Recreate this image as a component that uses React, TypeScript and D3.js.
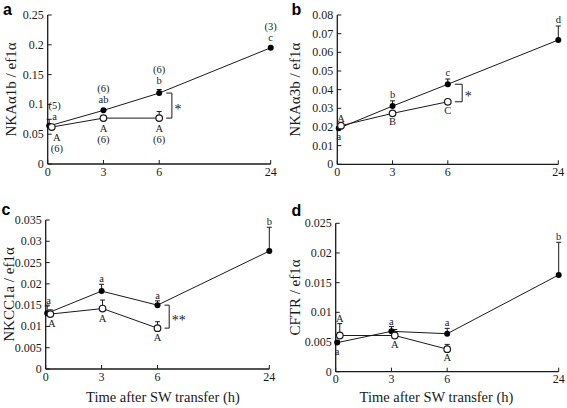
import React from 'react';
import * as d3 from 'd3';

// ---------- shared data ----------
const times = [0, 3, 6, 24];
const timeSlots = [0, 1, 2, 4];
const xTickLabels = ['0', '3', '6', '24'];
const xAxisTitle = 'Time after SW transfer (h)';

// ---------- panel a ----------
const aFilled = [0.064, 0.09, 0.119, 0.195];
const aFilledErr = [0.011, 0.003, 0.006, 0.002];
const aOpen = [0.062, 0.077, 0.077];
const aOpenErr = [0.004, 0.002, 0.011];
const aFilledLetters = ['a', 'ab', 'b', 'c'];
const aFilledN = ['(5)', '(6)', '(6)', '(3)'];
const aOpenLetters = ['A', 'A', 'A'];
const aOpenN = ['(6)', '(6)', '(6)'];
const aTicks = [0, 0.05, 0.1, 0.15, 0.2, 0.25];
const aTickLabels = ['0', '0.05', '0.1', '0.15', '0.2', '0.25'];

// ---------- panel b ----------
const bFilled = [0.0193, 0.0312, 0.0429, 0.0666];
const bFilledErr = [0.0008, 0.0028, 0.0028, 0.0075];
const bOpen = [0.0207, 0.0273, 0.0335];
const bOpenErr = [0.0005, 0.0006, 0.0006];
const bFilledLetters = ['a', 'b', 'c', 'd'];
const bOpenLetters = ['A', 'B', 'C'];
const bTicks = [0, 0.01, 0.02, 0.03, 0.04, 0.05, 0.06, 0.07, 0.08];
const bTickLabels = ['0', '0.01', '0.02', '0.03', '0.04', '0.05', '0.06', '0.07', '0.08'];

// ---------- panel c ----------
const cFilled = [0.0131, 0.0183, 0.015, 0.0277];
const cFilledErr = [0.0017, 0.0016, 0.001, 0.0056];
const cOpen = [0.0129, 0.0142, 0.0096];
const cOpenErr = [0.001, 0.002, 0.0015];
const cFilledLetters = ['a', 'a', 'a', 'b'];
const cOpenLetters = ['A', 'A', 'A'];
const cTicks = [0, 0.005, 0.01, 0.015, 0.02, 0.025, 0.03, 0.035];
const cTickLabels = ['0', '0.005', '0.01', '0.015', '0.02', '0.025', '0.03', '0.035'];

// ---------- panel d ----------
const dFilled = [0.0049, 0.0068, 0.0064, 0.0163];
const dFilledErr = [0.0003, 0.0008, 0.0009, 0.0055];
const dOpen = [0.0061, 0.0061, 0.0038];
const dOpenErr = [0.002, 0.001, 0.0008];
const dFilledLetters = ['a', 'a', 'a', 'b'];
const dOpenLetters = ['A', 'A', 'A'];
const dTicks = [0, 0.005, 0.01, 0.015, 0.02, 0.025];
const dTickLabels = ['0', '0.005', '0.01', '0.015', '0.02', '0.025'];

const serif = '"Liberation Serif", "Times New Roman", Times, serif';
const sans = '"Liberation Sans", Arial, Helvetica, sans-serif';
const INK = '#1a1a1a';

type Ann = { s: 'f' | 'o'; i: number; text: string; where: 'above' | 'below' | 'abovePt'; dx?: number; stack?: number };

type Cfg = {
  letter: string;
  letterPos: [number, number];
  left: number; right: number; top: number; bottom: number;
  yMax: number; ticks: number[]; tickLabels: string[];
  yTitle: string; yTitleOffset: number;
  filled: number[]; filledErr: number[]; open: number[]; openErr: number[];
  openShift: number[];
  anns: Ann[];
  gapAbove: number; gapBelow: number;
  sig?: string; sigOffset?: number;
  xTitle?: boolean; xTitleX?: number;
};

const FILLED_SHIFT_T0 = 0.08;

function Panel({ c }: { c: Cfg }) {
  const slot = d3.scaleLinear().domain([0, 4]).range([c.left, c.right]);
  const x = d3.scaleLinear().domain(times).range(timeSlots.map((s) => slot(s)));
  const y = d3.scaleLinear().domain([0, c.yMax]).range([c.bottom, c.top]);

  const fPts = c.filled.map((v, i) => [x(times[i] + (i === 0 ? FILLED_SHIFT_T0 : 0)), y(v)] as [number, number]);
  const oPts = c.open.map((v, i) => [x(times[i] + c.openShift[i]), y(v)] as [number, number]);
  const line = d3.line<[number, number]>();

  const err = (pts: [number, number][], vals: number[], errs: number[], key: string) =>
    pts.map((p, i) => {
      const yt = y(vals[i] + errs[i]);
      return (
        <g key={key + i} stroke={INK} strokeWidth={1}>
          <line x1={p[0]} x2={p[0]} y1={p[1]} y2={yt} />
          <line x1={p[0] - 2.5} x2={p[0] + 2.5} y1={yt} y2={yt} />
        </g>
      );
    });

  const annEls = c.anns.map((a, k) => {
    const pts = a.s === 'f' ? fPts : oPts;
    const vals = a.s === 'f' ? c.filled : c.open;
    const errs = a.s === 'f' ? c.filledErr : c.openErr;
    const p = pts[a.i];
    const st = (a.stack || 0) * 11;
    let cy: number;
    if (a.where === 'above') cy = y(vals[a.i] + errs[a.i]) - c.gapAbove - st;
    else if (a.where === 'abovePt') cy = p[1] - c.gapAbove - st;
    else cy = p[1] + c.gapBelow + st;
    return (
      <text key={'ann' + k} x={p[0] + (a.dx || 0)} y={cy + 3.6} fontSize={10.5} fontFamily={serif} textAnchor="middle" fill={INK}>
        {a.text}
      </text>
    );
  });

  let sigEl = null;
  if (c.sig) {
    const bx = x(6) + (c.sigOffset || 13);
    const y1 = fPts[2][1];
    const y2 = oPts[2][1];
    const mid = (y1 + y2) / 2;
    sigEl = (
      <g>
        <path d={`M${x(6) + 7},${y1}H${bx}V${y2}H${x(6) + 7}`} fill="none" stroke={INK} strokeWidth={1} />
        <text x={bx + 2.5} y={mid + 8} fontSize={14} fontFamily={serif} fill={INK}>
          {c.sig}
        </text>
      </g>
    );
  }

  const yMid = (c.top + c.bottom) / 2;

  return (
    <g>
      <text x={c.letterPos[0]} y={c.letterPos[1]} fontSize={16} fontWeight="bold" fontFamily={sans} fill="#000">
        {c.letter}
      </text>
      {/* axes */}
      <line x1={c.left} x2={c.left} y1={c.top} y2={c.bottom} stroke={INK} strokeWidth={1.3} />
      <line x1={c.left} x2={x(24)} y1={c.bottom} y2={c.bottom} stroke={INK} strokeWidth={1.3} />
      {c.ticks.map((t, i) => (
        <g key={'yt' + i}>
          <line x1={c.left} x2={c.left + 4} y1={y(t)} y2={y(t)} stroke={INK} strokeWidth={1} />
          <text x={c.left - 4} y={y(t) + 4} fontSize={12} fontFamily={serif} textAnchor="end" fill={INK}>
            {c.tickLabels[i]}
          </text>
        </g>
      ))}
      {times.map((t, i) => (
        <g key={'xt' + i}>
          <line x1={x(t)} x2={x(t)} y1={c.bottom} y2={c.bottom - 4} stroke={INK} strokeWidth={1} />
          <text x={x(t)} y={c.bottom + 11.5} fontSize={12} fontFamily={serif} textAnchor="middle" fill={INK}>
            {xTickLabels[i]}
          </text>
        </g>
      ))}
      <text
        transform={`translate(${c.left - c.yTitleOffset},${yMid}) rotate(-90)`}
        fontSize={15}
        fontFamily={serif}
        textAnchor="middle"
        fill={INK}
      >
        {c.yTitle}
      </text>
      {c.xTitle && (
        <text x={c.xTitleX} y={402} fontSize={14.5} fontFamily={serif} textAnchor="middle" fill={INK}>
          {xAxisTitle}
        </text>
      )}
      {/* series */}
      <path d={line(fPts) || ''} fill="none" stroke={INK} strokeWidth={1} />
      <path d={line(oPts) || ''} fill="none" stroke={INK} strokeWidth={1} />
      {err(fPts, c.filled, c.filledErr, 'fe')}
      {err(oPts, c.open, c.openErr, 'oe')}
      {fPts.map((p, i) => (
        <circle key={'fp' + i} cx={p[0]} cy={p[1]} r={3} fill="#000" />
      ))}
      {oPts.map((p, i) => (
        <circle key={'op' + i} cx={p[0]} cy={p[1]} r={3.3} fill="#fff" stroke={INK} strokeWidth={1.2} />
      ))}
      {annEls}
      {sigEl}
    </g>
  );
}

const mk = (arr: string[], s: 'f' | 'o', where: Ann['where'][], dx: number[] = [], stack = 0): Ann[] =>
  arr.map((text, i) => ({ s, i, text, where: where[i], dx: dx[i] || 0, stack }));

const panels: Cfg[] = [
  {
    letter: 'a', letterPos: [3, 14.5],
    left: 47.7, right: 270.7, top: 15, bottom: 164,
    yMax: 0.25, ticks: aTicks, tickLabels: aTickLabels,
    yTitle: 'NKAα1b / ef1α', yTitleOffset: 32,
    filled: aFilled, filledErr: aFilledErr, open: aOpen, openErr: aOpenErr,
    openShift: [0.22, 0, 0],
    gapAbove: 9, gapBelow: 10,
    anns: [
      ...mk(aFilledLetters, 'f', ['abovePt', 'above', 'above', 'above'], [5.5]),
      ...mk(aFilledN, 'f', ['abovePt', 'above', 'above', 'above'], [5.5], 1),
      ...mk(aOpenLetters, 'o', ['below', 'below', 'below'], [5]),
      ...mk(aOpenN, 'o', ['below', 'below', 'below'], [5], 1),
    ],
    sig: '*', sigOffset: 12.7,
  },
  {
    letter: 'b', letterPos: [291.5, 15],
    left: 337.3, right: 558.3, top: 15, bottom: 164.3,
    yMax: 0.08, ticks: bTicks, tickLabels: bTickLabels,
    yTitle: 'NKAα3b / ef1α', yTitleOffset: 37,
    filled: bFilled, filledErr: bFilledErr, open: bOpen, openErr: bOpenErr,
    openShift: [0.2, 0, 0],
    gapAbove: 6.5, gapBelow: 8.5,
    anns: [
      ...mk(bFilledLetters, 'f', ['below', 'above', 'above', 'above']),
      ...mk(bOpenLetters, 'o', ['above', 'below', 'below']),
    ],
    sig: '*', sigOffset: 14.4,
  },
  {
    letter: 'c', letterPos: [1.5, 215],
    left: 45.7, right: 269.3, top: 220, bottom: 369,
    yMax: 0.035, ticks: cTicks, tickLabels: cTickLabels,
    yTitle: 'NKCC1a / ef1α', yTitleOffset: 32,
    filled: cFilled, filledErr: cFilledErr, open: cOpen, openErr: cOpenErr,
    openShift: [0.25, 0.05, 0],
    gapAbove: 5.5, gapBelow: 9.5,
    anns: [
      ...mk(cFilledLetters, 'f', ['above', 'above', 'above', 'above'], [1.5]),
      ...mk(cOpenLetters, 'o', ['below', 'below', 'below'], [1.5]),
    ],
    sig: '**', sigOffset: 11.7,
    xTitle: true, xTitleX: 163,
  },
  {
    letter: 'd', letterPos: [291.5, 215.5],
    left: 335.7, right: 558.7, top: 223.3, bottom: 371.7,
    yMax: 0.025, ticks: dTicks, tickLabels: dTickLabels,
    yTitle: 'CFTR / ef1α', yTitleOffset: 36,
    filled: dFilled, filledErr: dFilledErr, open: dOpen, openErr: dOpenErr,
    openShift: [0.22, 0.18, 0],
    gapAbove: 5.5, gapBelow: 8.5,
    anns: [
      ...mk(dFilledLetters, 'f', ['below', 'above', 'above', 'above']),
      ...mk(dOpenLetters, 'o', ['above', 'below', 'below']),
    ],
    xTitle: true, xTitleX: 436.5,
  },
];

export default function App() {
  return (
    <svg
      width={567}
      height={408}
      viewBox="0 0 567 408"
      style={{ position: 'absolute', left: 0, top: 0, display: 'block', background: '#fff' }}
    >
      <rect width={567} height={408} fill="#fff" />
      {panels.map((p) => (
        <Panel key={p.letter} c={p} />
      ))}
    </svg>
  );
}
